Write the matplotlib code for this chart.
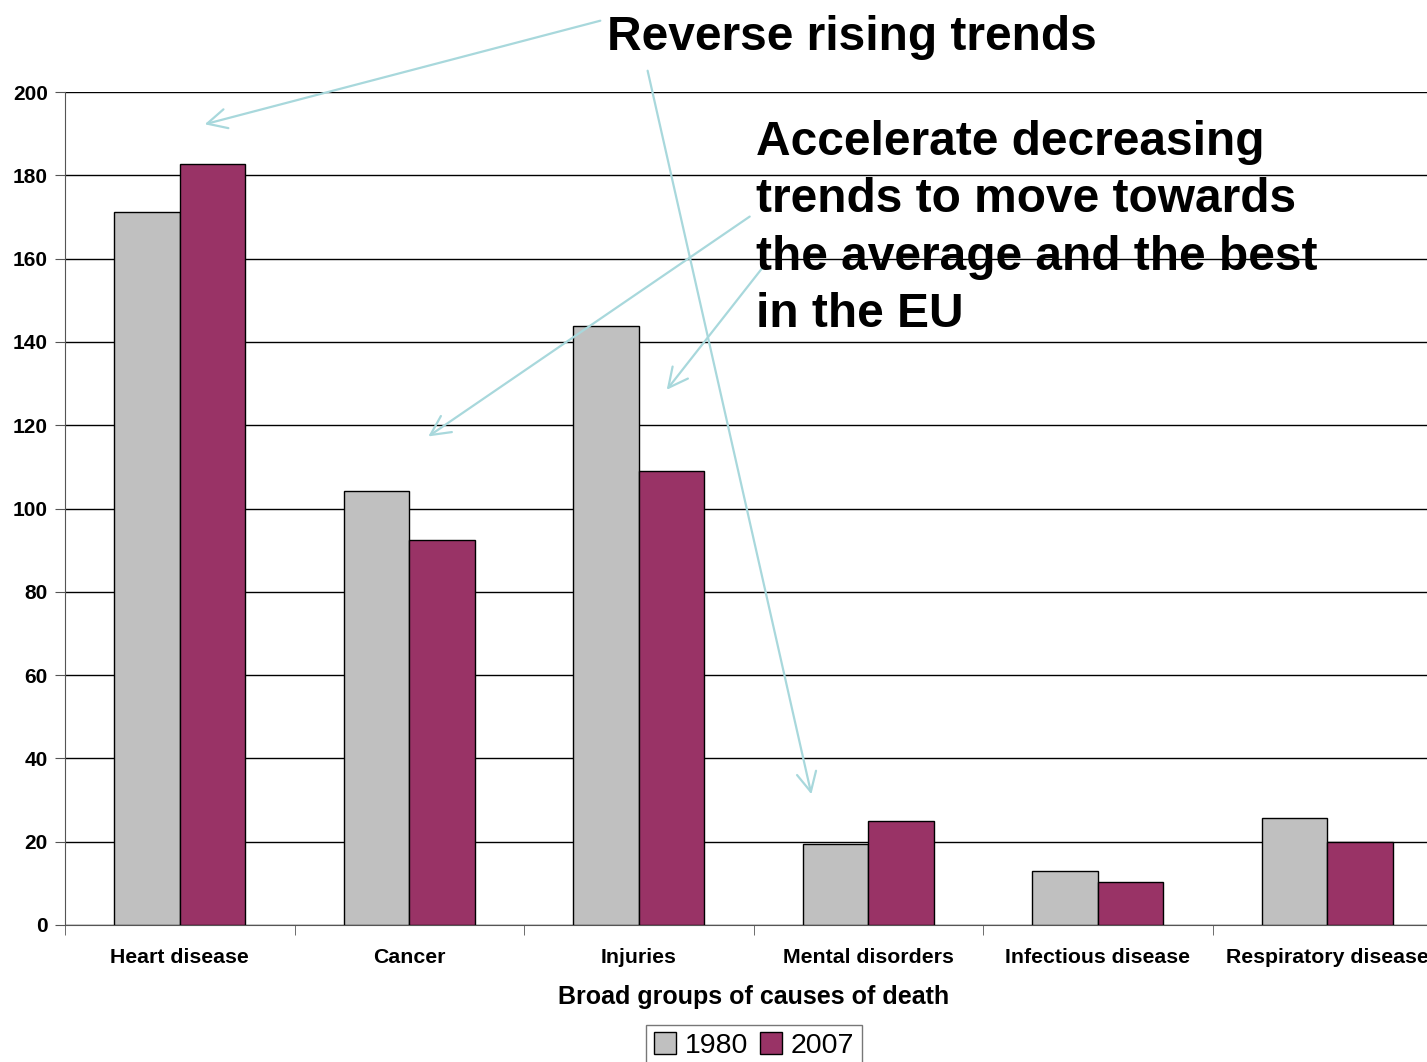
import matplotlib
matplotlib.use("Agg")
import matplotlib.pyplot as plt
import numpy as np

plt.rcParams['font.family'] = ['Liberation Sans', 'DejaVu Sans']

categories = ["Heart disease", "Cancer", "Injuries", "Mental disorders",
              "Infectious disease", "Respiratory disease"]
values_1980 = [171.2, 104.2, 143.8, 19.4, 13.0, 25.7]
values_2007 = [182.7, 92.4, 109.0, 25.0, 10.3, 19.9]
yticks = [0, 20, 40, 60, 80, 100, 120, 140, 160, 180, 200]

W, H = 1427, 1062
fig = plt.figure(figsize=(W / 100, H / 100), dpi=100)
ax = fig.add_axes([65 / W, 137 / H, 1377 / W, 833 / H])

x = np.arange(len(categories))
bw = 0.285
ax.bar(x - bw / 2, values_1980, bw, color="#C0C0C0", edgecolor="black",
       linewidth=1.0, label="1980", zorder=3)
ax.bar(x + bw / 2, values_2007, bw, color="#993366", edgecolor="black",
       linewidth=1.0, label="2007", zorder=3)

ax.set_xlim(-0.5, len(categories) - 0.5)
ax.set_ylim(0, 200)
ax.set_yticks(yticks)
ax.set_yticklabels([str(t) for t in yticks], fontsize=15, fontweight="bold")
ax.yaxis.grid(True, color="black", linewidth=1.0, zorder=0)
ax.set_axisbelow(True)

ax.set_xticks(x)
ax.set_xticklabels(categories, fontsize=15.3, fontweight="bold")
ax.set_xticks(np.arange(-0.5, len(categories) + 0.5, 1), minor=True)
ax.tick_params(axis="x", which="major", length=0, pad=16.5)
ax.tick_params(axis="x", which="minor", length=7, color="#555555", direction="out")
ax.tick_params(axis="y", length=7, color="#555555", direction="out", pad=5.5)
for s in ("top", "right"):
    ax.spines[s].set_visible(False)
ax.spines["left"].set_color("#555555")
ax.spines["bottom"].set_color("#555555")

ax.set_xlabel("Broad groups of causes of death", fontsize=18, fontweight="bold",
              labelpad=13)

leg = ax.legend(loc="upper center", bbox_to_anchor=(754 / W, (1062 - 1025) / H),
                bbox_transform=fig.transFigure, ncol=2, fontsize=20.5,
                frameon=True, fancybox=False, edgecolor="#555555",
                handlelength=0.8, handleheight=0.8, handletextpad=0.3,
                columnspacing=0.4, borderpad=0.25, borderaxespad=0)
leg.get_frame().set_linewidth(1.0)

# annotation text, one line per baseline
fig.text(607 / W, 1 - 50 / H, "Reverse rising trends", fontsize=34.5,
         fontweight="bold", ha="left", va="baseline")
lines = ["Accelerate decreasing", "trends to move towards",
         "the average and the best", "in the EU"]
baselines = [155, 212, 270, 327]
for txt, b in zip(lines, baselines):
    fig.text(756 / W, 1 - b / H, txt, fontsize=34.5, fontweight="bold",
             ha="left", va="baseline")

# arrows in pixel coordinates (top-left origin)
arrows = [((603, 20), (202, 125)),
          ((647, 68), (812, 797)),
          ((752, 215), (426, 438)),
          ((767, 262), (665, 392))]
for (x0, y0), (x1, y1) in arrows:
    fig.add_artist(matplotlib.patches.FancyArrowPatch(
        (x0 / W, 1 - y0 / H), (x1 / W, 1 - y1 / H),
        transform=fig.transFigure, arrowstyle="->,head_length=14,head_width=7",
        color="#A8D8DC", linewidth=1.6, mutation_scale=1))

fig.savefig("out.png", dpi=100)
